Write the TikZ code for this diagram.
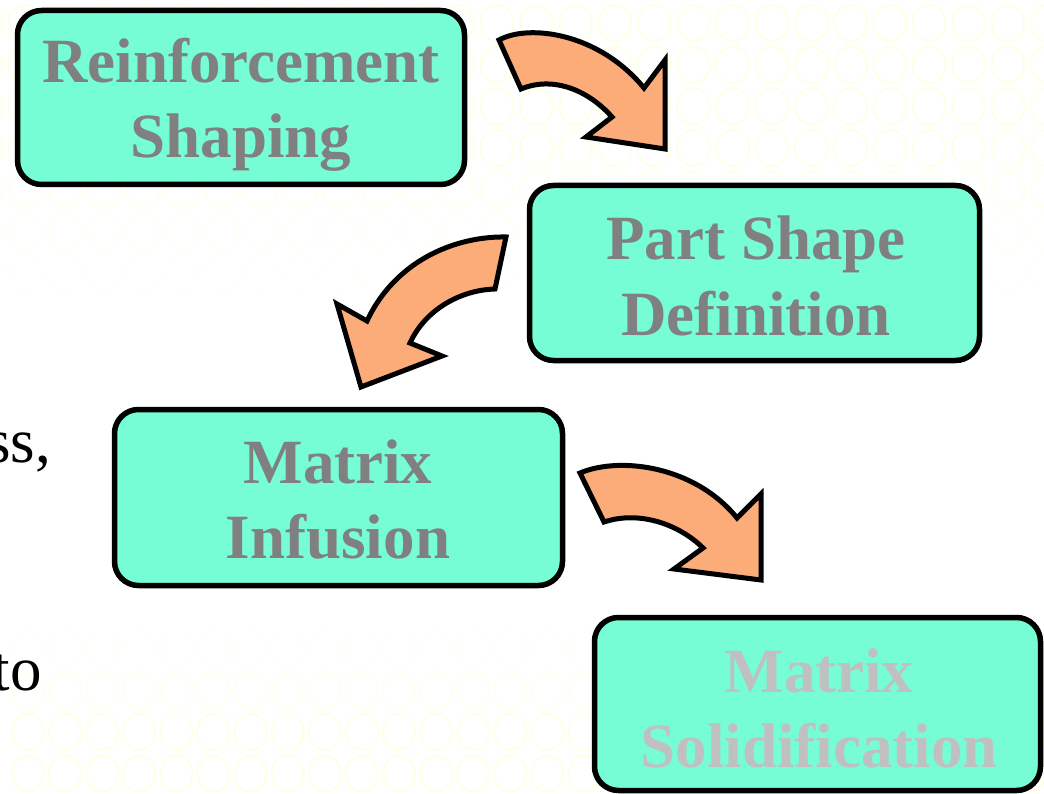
\documentclass[tikz,border=0pt]{standalone}
\usepackage{fontspec}
\setmainfont{Liberation Serif}
\definecolor{boxfill}{RGB}{118,253,214}
\definecolor{txtgray}{RGB}{128,128,128}
\definecolor{txtlight}{RGB}{192,192,192}
\definecolor{arrfill}{RGB}{252,172,120}
\definecolor{bgcircle}{RGB}{255,255,228}
\tikzset{
  stepbox/.style={draw=black, line width=5.5pt, fill=boxfill, rounded corners=24pt, inner sep=0pt, minimum width=#1},
  lbl/.style={anchor=base, inner sep=0pt, text=txtgray, font=\fontsize{63}{75}\selectfont\bfseries},
  lbllight/.style={lbl, text=txtlight},
  bodytxt/.style={anchor=base east, inner sep=0pt, text=black, font=\fontsize{63}{75}\selectfont},
  blockarrow/.style={draw=black, line width=5pt, fill=arrfill, line join=miter},
  bgcirc/.style={draw=bgcircle, line width=1.8pt}
}
\begin{document}
\begin{tikzpicture}[x=1pt, y=-1pt]
\useasboundingbox (0,0) rectangle (1044,794);
\clip (0,0) rectangle (1044,794);
\fill[white] (0,0) rectangle (1044,794);
% faint background circles
\foreach \j/\op in {0/1,1/1,2/1,3/0.9,4/0.6,5/0.35,6/0.15} {
  \foreach \i in {0,...,27} {
    \draw[bgcirc, opacity=\op] ({497+39.3*(\i-13)}, {23+41.7*\j}) ellipse (16.5 and 18);
  }
}
\foreach \j/\op in {15/0.2,16/0.5,17/0.9,18/1} {
  \foreach \i in {0,...,28} {
    \draw[bgcirc, opacity=\op] ({28+37.1*\i}, {23+41.7*\j}) ellipse (16 and 18);
  }
}
% left text fragments
\node[bodytxt] (frag1) at (51,462) {ss,};
\node[bodytxt] (frag2) at (42,690) {to};
% boxes
\node[stepbox=447pt, minimum height=174pt] (b1) at (241,97.5) {};
\node[stepbox=450pt, minimum height=175pt] (b2) at (754.5,273) {};
\node[stepbox=448pt, minimum height=176pt] (b3) at (338.5,497.5) {};
\node[stepbox=446pt, minimum height=173pt] (b4) at (817.5,704) {};
% labels
\node[lbl] (t1a) at (241,83) {Reinforcement};
\node[lbl] (t1b) at (241,158) {Shaping};
\node[lbl] (t2a) at (756,260) {Part Shape};
\node[lbl] (t2b) at (756,335) {Definition};
\node[lbl] (t3a) at (338,483) {Matrix};
\node[lbl] (t3b) at (338,558) {Infusion};
\node[lbllight] (t4a) at (819,692) {Matrix};
\node[lbllight] (t4b) at (819,767) {Solidification};
% curved block arrows
\draw[blockarrow] (499,40) .. controls (528,24) and (598,32) .. (644,88)
  -- (665,60) -- (665,149) -- (586,137) -- (612,117)
  .. controls (590,92) and (555,75) .. (521,89) -- cycle;
\draw[blockarrow] (506,237) .. controls (455,236) and (395,261) .. (367,321)
  -- (337,304) -- (361,387) -- (442,356) -- (410,343)
  .. controls (425,310) and (460,290) .. (495,289) -- cycle;
\draw[blockarrow] (580,473) .. controls (620,456) and (695,466) .. (737,518)
  -- (761,494) -- (761,580) -- (674,569) -- (703,548)
  .. controls (680,525) and (640,510) .. (604,522) -- cycle;
\end{tikzpicture}
\end{document}
